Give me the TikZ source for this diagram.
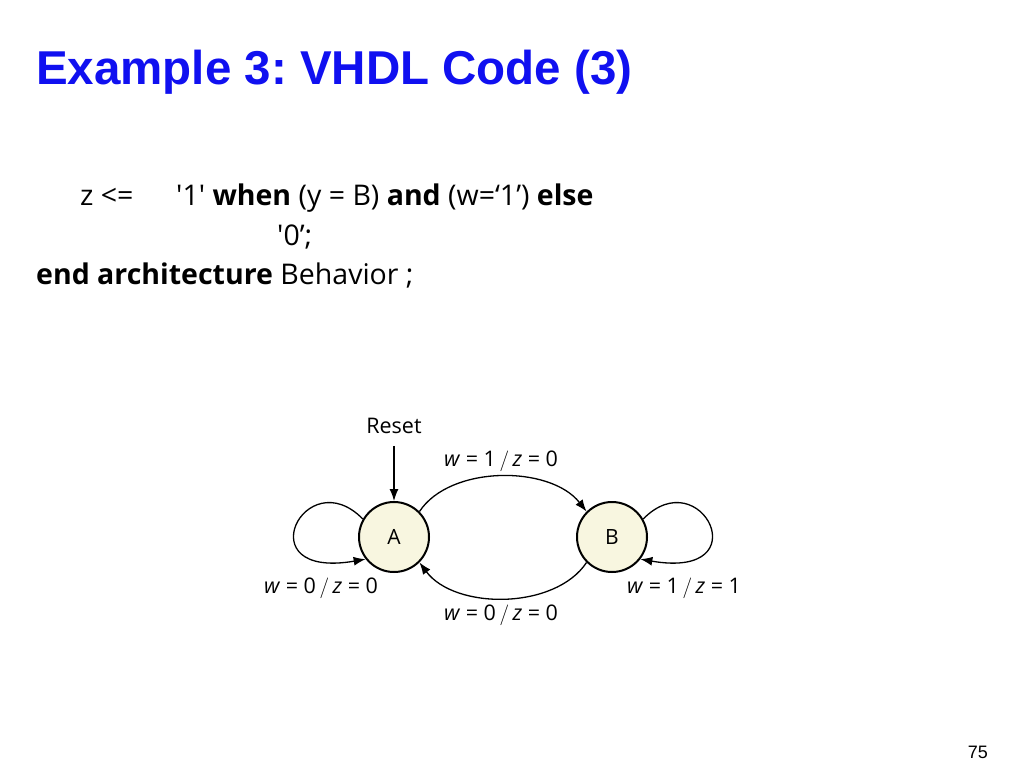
\documentclass[tikz,border=0pt]{standalone}
\usepackage{fontspec}
\setmainfont{Open Sans}
\newfontfamily\titlefont{Liberation Sans}
\usetikzlibrary{arrows.meta}
\frenchspacing
\newcommand{\sqx}{\textquotesingle}
\newcommand{\slx}{\,$/$\,}
\begin{document}
\begin{tikzpicture}[x=1pt,y=-1pt,
  st/.style={circle,draw,line width=2pt,fill={rgb,255:red,248;green,246;blue,224},minimum size=70pt,inner sep=0pt,font=\fontsize{21}{24}\selectfont},
  lbl/.style={font=\fontsize{21.5}{24}\selectfont,inner sep=0pt},
  code/.style={font=\fontsize{28.5}{32}\selectfont,inner sep=0pt,anchor=base west},
  arr/.style={line width=1.3pt,-{Latex[length=12pt,width=9pt]}}]
\useasboundingbox (0,0) rectangle (1024,768);
\node[anchor=base west,inner sep=0pt,text={rgb,255:red,16;green,16;blue,240},font=\titlefont\bfseries\fontsize{47.5}{50}\selectfont] (title) at (36,84) {Example 3: VHDL Code (3)};
\node[code] (c1) at (80,205) {z <=};
\node[code] (c2) at (176,205) {\sqx1\sqx{} \textbf{when} (y = B) \textbf{and} (w=‘1’) \textbf{else}};
\node[code] (c3) at (277,245) {\sqx0’;};
\node[code] (c4) at (36,284) {\textbf{end architecture} Behavior ;};
\node[st] (A) at (394,537) {A};
\node[st] (B) at (612,537) {B};
\node[lbl] (reset) at (394,426) {Reset};
\draw[arr] (reset.south) ++(0,12) coordinate (r0) (r0) -- (A.north);
\draw[arr] (A.45) .. controls (450,465) and (550,465) .. (B.135);
\draw[arr] (B.225) .. controls (555,610) and (455,610) .. (A.315);
\draw[arr] (A.150) .. controls (305,460) and (245,580) .. (A.218);
\draw[arr] (B.30) .. controls (701,460) and (761,580) .. (B.322);
\node[lbl] (l1) at (501,461) {\textit{w} = 1\slx\textit{z} = 0};
\node[lbl] (l2) at (501,615) {\textit{w} = 0\slx\textit{z} = 0};
\node[lbl] (l3) at (321,588) {\textit{w} = 0\slx\textit{z} = 0};
\node[lbl] (l4) at (684,588) {\textit{w} = 1\slx\textit{z} = 1};
\node[anchor=base east,inner sep=0pt,font=\titlefont\fontsize{18}{20}\selectfont] (pg) at (988,758) {75};
\end{tikzpicture}
\end{document}
